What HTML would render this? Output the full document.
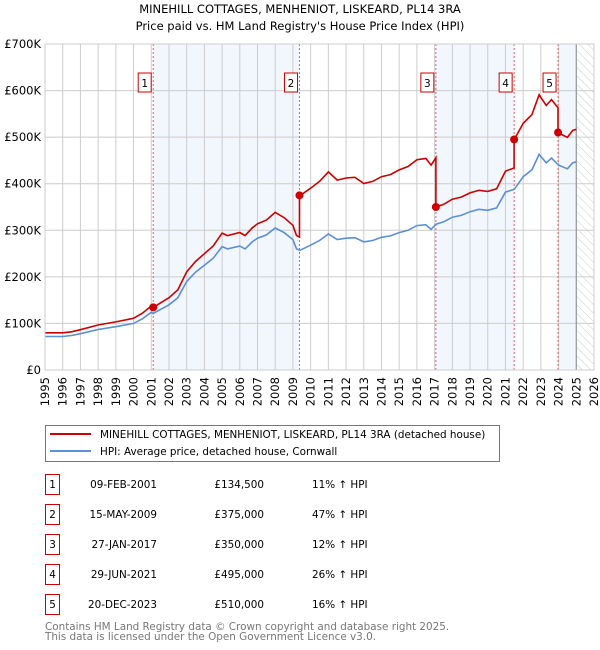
<!DOCTYPE html>
<html><head><meta charset="utf-8"><style>
body{margin:0;background:#fff;font-family:"DejaVu Sans","Liberation Sans",sans-serif;}
#wrap{position:relative;width:600px;height:650px;overflow:hidden;}
svg text{font-family:"DejaVu Sans","Liberation Sans",sans-serif;}
</style></head><body><div id="wrap">
<svg id="s" width="600" height="650" xmlns="http://www.w3.org/2000/svg">
<defs><pattern id="hatch" width="6" height="6" patternUnits="userSpaceOnUse" patternTransform="rotate(-45)"><line x1="0" y1="0" x2="0" y2="6" stroke="#ccc" stroke-width="1"/></pattern></defs>
<text x="300" y="13" text-anchor="middle" font-size="11.5">MINEHILL COTTAGES, MENHENIOT, LISKEARD, PL14 3RA</text>
<text x="300" y="30" text-anchor="middle" font-size="11.5">Price paid vs. HM Land Registry's House Price Index (HPI)</text>
<g id="g"></g>
</svg></div>
<script>
const hpiYears=[1995,1996,1996.5,1997,1998,1999,2000,2000.5,2001.0,2001.1,2002,2002.5,2003,2003.5,2004,2004.5,2005,2005.3,2006,2006.3,2006.7,2007,2007.5,2008,2008.5,2009,2009.2,2009.4,2010,2010.5,2011,2011.5,2012,2012.5,2013,2013.5,2014,2014.5,2015,2015.5,2016,2016.5,2016.8,2017.07,2017.5,2018,2018.5,2019,2019.5,2020,2020.5,2021,2021.5,2022,2022.5,2022.9,2023.3,2023.6,2024,2024.5,2024.8,2025];
const hpiValues=[72,72,74,78,87,93,100,110,124,121,140,155,190,210,225,240,265,260,266,260,275,283,290,305,295,280,260,257,268,278,292,280,283,284,275,278,285,288,295,300,310,312,302,313,318,328,332,340,345,343,348,382,388,415,430,463,445,455,440,432,445,447];
const saleLabels=["1","2","3","4","5"];
const saleDates=[2001.11,2009.37,2017.07,2021.49,2023.97];
const salePrices=[134.5,375,350,495,510];
const saleDateText=["09-FEB-2001","15-MAY-2009","27-JAN-2017","29-JUN-2021","20-DEC-2023"];
const salePriceText=["£134,500","£375,000","£350,000","£495,000","£510,000"];
const saleHpiText=["11% ↑ HPI","47% ↑ HPI","12% ↑ HPI","26% ↑ HPI","16% ↑ HPI"];
const yTicks=[0,100,200,300,400,500,600,700];
const yTickLabels=["£0","£100K","£200K","£300K","£400K","£500K","£600K","£700K"];

const X0=45,X1=594,Y0=370,Y1=44;
const x=t=>X0+(t-1995)*(X1-X0)/31;
const y=v=>Y0-v*(Y0-Y1)/700;
const NS="http://www.w3.org/2000/svg";
const g=document.getElementById('g');
function mk(tag,attrs,parent){const e=document.createElementNS(NS,tag);for(const k in attrs)e.setAttribute(k,attrs[k]);(parent||g).appendChild(e);return e;}
function hpiAt(t){for(let i=1;i<hpiYears.length;i++){if(t<=hpiYears[i]){const f=(t-hpiYears[i-1])/(hpiYears[i]-hpiYears[i-1]);return hpiValues[i-1]+f*(hpiValues[i]-hpiValues[i-1]);}}return hpiValues[hpiValues.length-1];}

const shadeSpans=[[0,1],[2,3],[4,null]];
shadeSpans.forEach(s=>{const a=x(saleDates[s[0]]);const b=s[1]===null?x(2025):x(saleDates[s[1]]);
const r=mk('rect',{x:a,y:Y1,width:b-a,height:Y0-Y1,fill:'#eef3fc',opacity:0.75});

});
const hr=mk('rect',{x:x(2025),y:Y1,width:X1-x(2025),height:Y0-Y1,fill:'url(#hatch)'});


for(let yr=1995;yr<=2026;yr++){const l=mk('line',{x1:x(yr),x2:x(yr),y1:Y1,y2:Y0,stroke:'#ccc','stroke-width':1});


const t=mk('text',{x:0,y:0,'font-size':11.5,'text-anchor':'end',transform:`translate(${x(yr)+4},${Y0+7}) rotate(-90)`});t.textContent=yr;

}
yTicks.forEach((v,i)=>{const l=mk('line',{x1:X0,x2:X1,y1:y(v),y2:y(v),stroke:'#ccc','stroke-width':1});


const t=mk('text',{x:X0-4,y:y(v)+4,'font-size':11.5,'text-anchor':'end'});t.textContent=yTickLabels[i];

});
const ax=mk('line',{x1:x(2025),x2:x(2025),y1:Y1,y2:Y0,stroke:'#999','stroke-width':1.2});


saleDates.forEach((d,i)=>{const l=mk('line',{x1:x(d),x2:x(d),y1:Y1,y2:Y0,stroke:'#e06060','stroke-width':1,'stroke-dasharray':'2,2'});


const r=mk('rect',{x:x(d)-15,y:73,width:13,height:19,fill:'#fff',stroke:'#c00','stroke-width':1});


const t=mk('text',{x:x(d)-8.5,y:87,'font-size':10.5,'text-anchor':'middle'});t.textContent=saleLabels[i];

});
let p=hpiYears.map((t,i)=>`${i?'L':'M'}${x(t).toFixed(1)},${y(hpiValues[i]).toFixed(1)}`).join('');
const hl=mk('path',{d:p,fill:'none',stroke:'#5b8fd6','stroke-width':1.6});


function ratioAt(t){let k=0;for(let i=0;i<saleDates.length;i++)if(t>=saleDates[i])k=i;return salePrices[k]/hpiAt(saleDates[k]);}
const pts=[];
const times=hpiYears.concat(saleDates).sort((a,b)=>a-b);
times.forEach(t=>{const si=saleDates.indexOf(t);if(si>0){pts.push([t,hpiAt(t)*salePrices[si-1]/hpiAt(saleDates[si-1])]);}pts.push([t,hpiAt(t)*ratioAt(t)]);});
p=pts.map((q,i)=>`${i?'L':'M'}${x(q[0]).toFixed(1)},${y(q[1]).toFixed(1)}`).join('');
const rl=mk('path',{d:p,fill:'none',stroke:'#cc0000','stroke-width':1.6});


saleDates.forEach((d,i)=>{const c=mk('circle',{cx:x(d),cy:y(salePrices[i]),r:4,fill:'#cc0000'});

});
const fr=mk('rect',{x:X0,y:Y1,width:X1-X0,height:Y0-Y1,fill:'none',stroke:'#ccc'});


const lg=mk('rect',{x:45.5,y:425.5,width:454,height:36,fill:'#fff',stroke:'#777'});


let e=mk('line',{x1:50,x2:91,y1:434,y2:434,stroke:'#cc0000','stroke-width':2});


e=mk('text',{x:100,y:438,'font-size':10.4});e.textContent='MINEHILL COTTAGES, MENHENIOT, LISKEARD, PL14 3RA (detached house)';


e=mk('line',{x1:50,x2:91,y1:451,y2:451,stroke:'#5b8fd6','stroke-width':2});


e=mk('text',{x:100,y:455,'font-size':10.4});e.textContent='HPI: Average price, detached house, Cornwall';


saleLabels.forEach((lab,i)=>{const cy=483+30*i;
let r=mk('rect',{x:45.5,y:cy-8.5,width:14,height:20,fill:'#fff',stroke:'#c00'});


let t=mk('text',{x:52.5,y:cy+5,'font-size':10.4,'text-anchor':'middle'});t.textContent=lab;


t=mk('text',{x:157,y:cy+5,'font-size':10.4,'text-anchor':'end'});t.textContent=saleDateText[i];


t=mk('text',{x:264,y:cy+5,'font-size':10.4,'text-anchor':'end'});t.textContent=salePriceText[i];


t=mk('text',{x:312,y:cy+5,'font-size':10.4});t.textContent=saleHpiText[i];

});
e=mk('text',{x:45,y:630,'font-size':10.4,fill:'#777'});e.textContent='Contains HM Land Registry data © Crown copyright and database right 2025.';


e=mk('text',{x:45,y:640,'font-size':10.4,fill:'#777'});e.textContent='This data is licensed under the Open Government Licence v3.0.';


</script></body></html>
